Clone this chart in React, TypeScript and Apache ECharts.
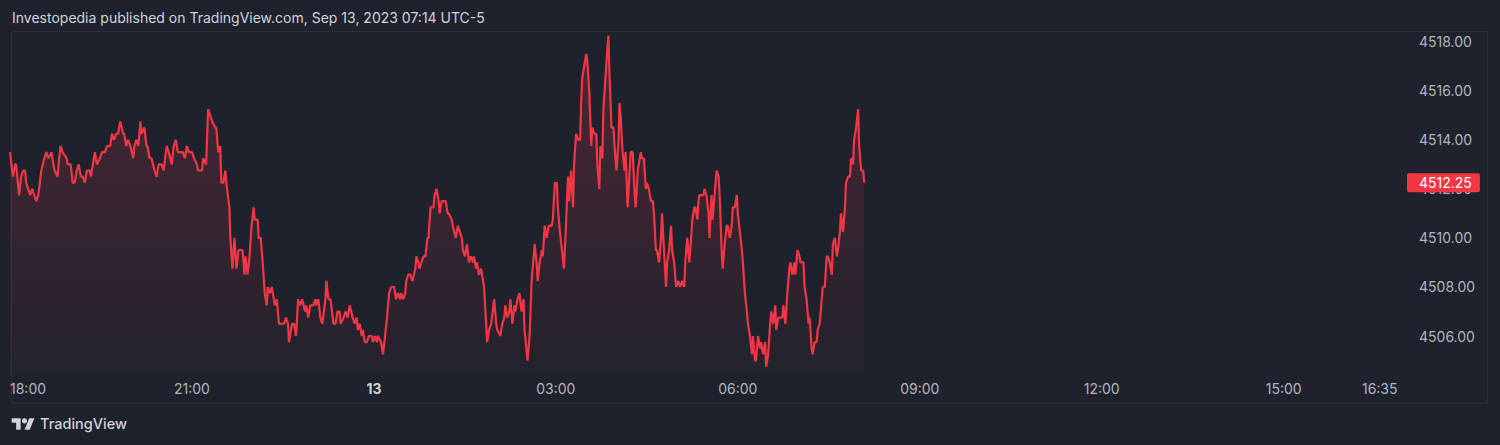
import React, { useEffect, useRef } from "react";
import * as echarts from "echarts";

const TITLE = "Investopedia published on TradingView.com, Sep 13, 2023 07:14 UTC-5";
const BRAND = "TradingView";
const LAST_PRICE = 4512.25;

// time axis: minutes counted from 18:00 (Sep 12)
const xTickMinutes = [0, 180, 360, 540, 720, 900, 1080, 1260, 1355];
const xTickLabels = ["18:00", "21:00", "13", "03:00", "06:00", "09:00", "12:00", "15:00", "16:35"];
const yTickValues = [4506, 4508, 4510, 4512, 4514, 4516, 4518];

const minutesFrom1800 = [
  // 18:00 - 20:50
  0, 3, 5, 6, 9, 11, 13, 15, 16, 18,
  20, 22, 24, 26, 28, 31, 34, 36, 38, 41,
  44, 47, 48, 50, 52, 56, 57, 60, 62, 64,
  66, 68, 70, 72, 74, 76, 79, 80, 83, 84,
  86, 89, 91, 94, 96, 99, 101, 103, 105, 107,
  109, 112, 113, 115, 117, 119, 122, 123, 125, 127,
  129, 130, 133, 135, 136, 138, 140, 143, 145, 147,
  150, 152, 155, 157, 160, 162, 164, 166, 169,
  // 20:51 - 23:36
  171, 173, 175, 177, 180, 182, 185, 186, 190, 191,
  194, 196, 198, 200, 203, 204, 206, 208, 209, 211,
  213, 214, 217, 218, 220, 222, 224, 226, 228, 230,
  232, 233, 235, 237, 239, 241, 242, 245, 246, 248,
  250, 252, 254, 255, 257, 259, 260, 262, 264, 266,
  269, 271, 273, 275, 276, 279, 281, 283, 285, 287,
  289, 292, 293, 295, 297, 300, 302, 303, 305, 307,
  309, 312, 313, 315, 317, 320, 322, 324, 326, 327,
  330, 332, 334, 336,
  // 23:39 - 02:24
  339, 341, 343, 344, 346, 348, 349, 351, 353, 355,
  358, 359, 361, 363, 364, 367, 369, 371, 373, 375,
  377, 380, 382, 384, 386, 387, 389, 391, 392, 394,
  396, 398, 401, 402, 404, 405, 407, 409, 411, 413,
  414, 416, 419, 420, 422, 424, 425, 427, 429, 431,
  433, 434, 437, 438, 441, 443, 445, 447, 448, 450,
  452, 454, 456, 458, 459, 461, 462, 464, 466, 467,
  469, 471, 472, 474, 476, 479, 481, 482, 485, 487,
  489, 490, 492, 494, 495, 497, 499, 500, 502, 504,
  // 02:26 - 05:12
  506, 508, 509, 512, 514, 516, 517, 519, 521, 522,
  524, 526, 527, 529, 531, 533, 536, 537, 539, 541,
  542, 544, 546, 548, 550, 552, 553, 555, 557, 558,
  560, 562, 564, 565, 566, 568, 570, 571, 573, 575,
  576, 578, 580, 581, 583, 584, 586, 587, 589, 591,
  592, 593, 595, 597, 598, 600, 602, 603, 604, 606,
  608, 609, 611, 613, 614, 616, 618, 619, 621, 622,
  624, 625, 627, 629, 630, 632, 634, 636, 637, 639,
  640, 642, 644, 645, 647, 649, 650, 652, 654, 655,
  657, 659, 661, 663, 665, 667, 668, 670, 672,
  // 05:13 - 08:05
  673, 675, 677, 678, 680, 681, 682, 684, 686, 687,
  689, 691, 692, 694, 695, 697, 699, 701, 702, 704,
  705, 707, 709, 710, 712, 714, 715, 717, 719, 720,
  722, 724, 725, 727, 729, 730, 732, 734, 735, 737,
  738, 740, 742, 743, 745, 747, 748, 750, 752, 753,
  755, 757, 758, 760, 762, 764, 765, 767, 769, 771,
  772, 774, 776, 777, 779, 781, 782, 785, 786, 788,
  790, 791, 793, 794, 796, 798, 799, 801, 803, 804,
  806, 808, 809, 811, 813, 814, 816, 818, 819, 821,
  822, 824, 826, 827, 829, 831, 832, 834, 835, 837,
  839, 840, 842, 844, 845,
];

const prices = [
  // 18:00 - 20:50
  4513.5, 4512.5, 4513, 4513, 4511.75, 4512.5, 4512.75, 4512.75, 4512.25, 4512,
  4511.75, 4512, 4511.75, 4511.5, 4511.75, 4512.75, 4513.25, 4513.5, 4513.25, 4513.5,
  4512.75, 4512.5, 4513, 4513.75, 4513.5, 4513.25, 4513, 4513, 4512.25, 4512.25,
  4512.75, 4513, 4512.5, 4512.5, 4512.25, 4512.75, 4512.75, 4512.5, 4513.25, 4513.5,
  4513, 4513.25, 4513.5, 4513.5, 4513.75, 4513.75, 4514.25, 4514, 4514.25, 4514.25,
  4514.75, 4514.25, 4514.25, 4513.75, 4514, 4513.75, 4513.25, 4513.75, 4514, 4513.75,
  4514.75, 4514.25, 4514.5, 4513.75, 4513.75, 4513.25, 4513.25, 4512.75, 4512.5, 4513,
  4513, 4512.75, 4513.75, 4513.5, 4513, 4513.75, 4514, 4513.5, 4513.5,
  // 20:51 - 23:36
  4513.5, 4513.25, 4513.75, 4513.5, 4513.5, 4513.25, 4513, 4512.75, 4512.75, 4513.25,
  4513, 4515.25, 4515, 4514.75, 4514.5, 4514.5, 4513.5, 4513.75, 4512.25, 4512.25,
  4512.75, 4512.25, 4511.25, 4510, 4508.75, 4510, 4508.75, 4509.5, 4509.5, 4509.5,
  4508.5, 4509.25, 4508.5, 4509.25, 4510.5, 4511.25, 4510.75, 4510.75, 4510, 4510,
  4509, 4507.75, 4507.25, 4508, 4507.75, 4508, 4507.75, 4507.25, 4507.5, 4506.5,
  4506.5, 4506.5, 4506.75, 4506.5, 4505.75, 4506.5, 4506.5, 4506, 4507.5, 4507.25,
  4507.5, 4507, 4507.25, 4506.75, 4507.25, 4507.25, 4507.5, 4507.25, 4507.5, 4506.75,
  4506.5, 4507.5, 4508.25, 4507.5, 4507.5, 4506.5, 4506.5, 4507, 4507, 4506.5,
  4506.75, 4507, 4506.75, 4507.25,
  // 23:39 - 02:24
  4506.75, 4506.5, 4506.75, 4506.25, 4506.5, 4506, 4506.25, 4505.75, 4505.75, 4506,
  4506, 4505.75, 4506, 4505.75, 4506, 4505.75, 4505.25, 4506, 4506.75, 4507.75,
  4508, 4508, 4507.5, 4507.75, 4507.5, 4507.75, 4507.5, 4507.75, 4508.25, 4508.5,
  4508.5, 4508.25, 4508.75, 4509.25, 4509, 4508.75, 4509, 4509.25, 4509.25, 4510,
  4510, 4511.25, 4511.25, 4511.75, 4512, 4511.5, 4511, 4511.5, 4511.5, 4511.5,
  4511, 4511, 4510.75, 4510.5, 4510, 4510.5, 4510.25, 4510, 4509.5, 4509.25,
  4509.75, 4509, 4509.25, 4509, 4509.25, 4508.75, 4509, 4508.5, 4508.75, 4508.5,
  4508, 4506.5, 4505.75, 4506.25, 4506.5, 4507.5, 4506.5, 4506.25, 4506, 4506.5,
  4506.75, 4507.25, 4506.75, 4507, 4507.5, 4506.5, 4507.25, 4507, 4507.5, 4507.75,
  // 02:26 - 05:12
  4507, 4507.5, 4506.25, 4505, 4506, 4508.25, 4508.75, 4509.75, 4509, 4508.25,
  4509, 4509.5, 4509.25, 4510.5, 4510, 4510.5, 4510.5, 4510.75, 4512.25, 4512.25,
  4511.25, 4510.25, 4509.5, 4508.75, 4510.5, 4512.5, 4511.5, 4512.75, 4511.25, 4513,
  4514.25, 4514, 4514, 4515.5, 4516.5, 4517, 4517.5, 4517.25, 4516, 4513.75,
  4514.5, 4514.25, 4514.25, 4513, 4512, 4513.75, 4513.25, 4515.25, 4516.5, 4517.75,
  4518.25, 4516.75, 4514.5, 4514.5, 4513.75, 4512.75, 4514, 4515.5, 4515, 4513.5,
  4512.75, 4513.5, 4511.25, 4512.75, 4513.5, 4513.5, 4511.75, 4511.25, 4512.75, 4513,
  4513.5, 4513.25, 4513.25, 4512, 4512.25, 4512, 4511.5, 4511.5, 4511, 4509.5,
  4509.5, 4509, 4510, 4511, 4509.5, 4508, 4509, 4509.5, 4510.5, 4509.5,
  4509, 4508, 4508.25, 4508, 4508.25, 4508, 4509, 4510, 4509,
  // 05:13 - 08:05
  4509.5, 4510.75, 4511.25, 4511.25, 4510.75, 4511.5, 4511.75, 4511.75, 4511.75, 4512,
  4511.75, 4511, 4510, 4511.75, 4510.75, 4511.75, 4512.75, 4512.5, 4511.75, 4509.5,
  4508.75, 4509.75, 4510.5, 4510.5, 4510, 4510.5, 4511.25, 4511.25, 4511.75, 4511,
  4510.25, 4509.5, 4509, 4507.75, 4507, 4506.5, 4506, 4505.25, 4506, 4505,
  4505, 4506, 4505.5, 4505.75, 4505.25, 4505.75, 4504.75, 4505.25, 4506.5, 4507,
  4506.5, 4507.25, 4506.25, 4506.75, 4506.75, 4506.75, 4507.25, 4506.5, 4507.75, 4508.75,
  4509, 4508.5, 4509, 4508.5, 4509.5, 4509.25, 4509, 4509, 4508, 4507.5,
  4506.5, 4506.75, 4505.5, 4505.25, 4505.75, 4505.75, 4506.25, 4506.5, 4507.5, 4508,
  4508, 4509.25, 4509.25, 4509, 4508.5, 4509.75, 4510, 4509.25, 4509.5, 4510.25,
  4511, 4510.25, 4511.25, 4512.25, 4512.5, 4512.5, 4513.25, 4513, 4514, 4514.5,
  4515.25, 4513.75, 4512.75, 4512.75, LAST_PRICE,
];

const TV_LOGO_PATH =
  "M14 22H7V11H0V4h14v18zM28 22h-8l7.5-18h8L28 22zM16 8a4 4 0 1 0 8 0a4 4 0 1 0-8 0z";

let logoRegistered = false;
function registerLogo() {
  if (logoRegistered) return;
  echarts.graphic.registerShape("tvlogo", echarts.graphic.extendPath(TV_LOGO_PATH, {}));
  logoRegistered = true;
}

const FONT = "Inter, 'Noto Sans', 'Liberation Sans', sans-serif";
const BG = "#1e222d";
const BORDER = "#2a2e39";
const TEXT = "#d1d4dc";
const AXIS_TEXT = "#b2b5be";
const RED = "#f23645";

export default function App() {
  const ref = useRef<HTMLDivElement>(null);

  useEffect(() => {
    if (!ref.current) return;
    registerLogo();
    const chart = echarts.init(ref.current, undefined, { renderer: "svg" });
    const n = Math.min(minutesFrom1800.length, prices.length);
    const data = [];
    for (let i = 0; i < n; i++) data.push([minutesFrom1800[i], prices[i]]);

    chart.setOption({
      animation: false,
      backgroundColor: BG,
      textStyle: { fontFamily: FONT },
      grid: { left: 10, right: 95, top: 31, bottom: 70, containLabel: false },
      xAxis: {
        type: "value",
        min: 0,
        max: 1380,
        axisLine: { show: false },
        axisTick: { show: false },
        splitLine: { show: false },
        axisLabel: {
          customValues: xTickMinutes,
          alignMinLabel: "left",
          margin: 6,
          color: AXIS_TEXT,
          fontSize: 14,
          fontFamily: FONT,
          formatter: (v: number) => {
            const i = xTickMinutes.indexOf(v);
            const t = i >= 0 ? xTickLabels[i] : "";
            return t.includes(":") ? t : `{day|${t}}`;
          },
          rich: {
            day: { fontWeight: "bold", color: TEXT, fontSize: 14, fontFamily: FONT },
          },
        },
      },
      yAxis: {
        type: "value",
        position: "right",
        min: 4504.41,
        max: 4518.44,
        axisLine: { show: false },
        axisTick: { show: false },
        splitLine: { show: false },
        axisLabel: {
          customValues: yTickValues,
          margin: 14,
          color: AXIS_TEXT,
          fontSize: 14,
          fontFamily: FONT,
          formatter: (v: number) => v.toFixed(2),
        },
      },
      series: [
        {
          type: "line",
          data,
          showSymbol: false,
          symbol: "none",
          z: 3,
          lineStyle: { color: RED, width: 2.2 },
          areaStyle: {
            color: new echarts.graphic.LinearGradient(0, 0, 0, 1, [
              { offset: 0, color: "rgba(242,54,69,0.30)" },
              { offset: 1, color: "rgba(242,54,69,0.03)" },
            ]),
          },
          markLine: {
            silent: true,
            symbol: ["none", "none"],
            z: 10,
            lineStyle: { color: "rgba(0,0,0,0)", width: 1, type: "solid" },
            data: [{ yAxis: LAST_PRICE }],
            label: {
              show: true,
              position: "end",
              distance: 2,
              formatter: LAST_PRICE.toFixed(2),
              color: "#ffffff",
              fontSize: 14,
              fontFamily: FONT,
              lineHeight: 14,
              backgroundColor: RED,
              borderRadius: 2,
              padding: [3, 8, 2, 12],
            },
          },
        },
      ],
      graphic: [
        {
          type: "rect",
          silent: true,
          shape: { x: 11.5, y: 31.5, width: 1476, height: 371.5 },
          style: { fill: "none", stroke: BORDER, lineWidth: 1 },
        },
        {
          type: "text",
          left: 12,
          top: 10,
          style: { text: TITLE, fill: TEXT, fontSize: 14, fontFamily: FONT },
        },
        {
          type: "tvlogo",
          x: 11.7,
          y: 415.7,
          scaleX: 0.64,
          scaleY: 0.64,
          style: { fill: TEXT },
        },
        {
          type: "text",
          left: 40,
          top: 416,
          style: { text: BRAND, fill: TEXT, fontSize: 14.5, fontWeight: 500, fontFamily: FONT },
        },
      ],
    });
    return () => chart.dispose();
  }, []);

  return (
    <div
      ref={ref}
      style={{ position: "absolute", left: 0, top: 0, width: 1500, height: 445 }}
    />
  );
}
